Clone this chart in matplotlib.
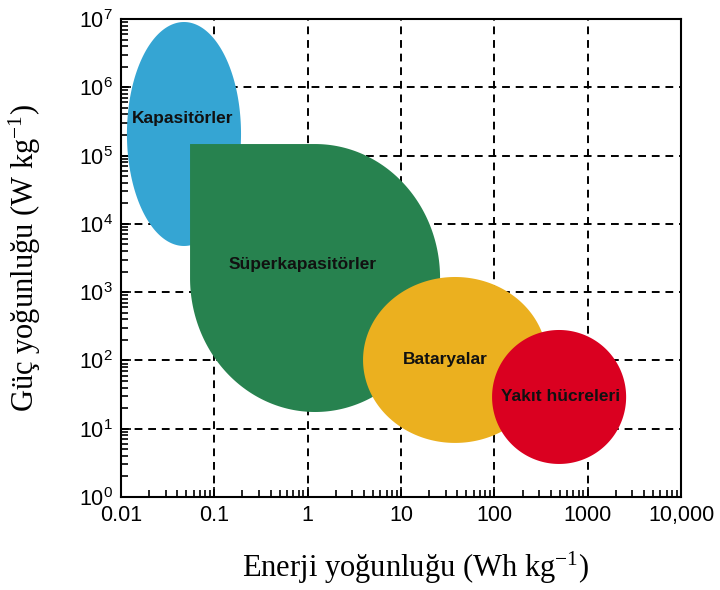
import numpy as np
import matplotlib
matplotlib.use("Agg")
import matplotlib.pyplot as plt
from matplotlib.ticker import LogLocator, FixedFormatter, NullFormatter

plt.rcParams["font.family"] = ["Liberation Sans", "DejaVu Sans"]
plt.rcParams["mathtext.default"] = "regular"

# Bölgeler: merkez ve yarı eksenler log10 uzayında (x: Wh/kg, y: W/kg)
names = ["Kapasitörler", "Süperkapasitörler", "Bataryalar", "Yakıt hücreleri"]
center_logx = [-1.325, 0.079, 1.579, 2.693]
center_logy = [5.316, 3.207, 2.007, 1.465]
semi_logx = [0.611, 1.339, 0.986, 0.718]
semi_logy = [1.640, 1.962, 1.215, 0.981]
colors = ["#35a5d3", "#27824f", "#ebb01f", "#da0020"]

label_logx = [-1.336, -0.05, 1.471, 2.704]
label_logy = [5.55, 3.398, 2.02, 1.465]

xticks = [0.01, 0.1, 1, 10, 100, 1000, 10000]
xticklabels = ["0.01", "0.1", "1", "10", "100", "1000", "10,000"]
yticks = [1e0, 1e1, 1e2, 1e3, 1e4, 1e5, 1e6, 1e7]


def region(i, square_corner=False):
    cx, cy = center_logx[i], center_logy[i]
    a, b = semi_logx[i], semi_logy[i]
    if square_corner:
        # sol üst çeyrek yerine köşe: üst -> sağ -> alt -> sol, sonra köşe
        t = np.linspace(np.pi / 2, -np.pi, 300)
        lx = np.append(cx + a * np.cos(t), cx - a)
        ly = np.append(cy + b * np.sin(t), cy + b)
    else:
        t = np.linspace(0, 2 * np.pi, 300)
        lx = cx + a * np.cos(t)
        ly = cy + b * np.sin(t)
    return 10 ** lx, 10 ** ly


fig = plt.figure(figsize=(7.2, 5.9), dpi=100)
ax = fig.add_axes([0.168, 0.1576, 0.778, 0.8102])
ax.set_xscale("log")
ax.set_yscale("log")
ax.set_xlim(0.01, 10000)
ax.set_ylim(1, 1e7)

for i in range(len(names)):
    xs, ys = region(i, square_corner=(i == 1))
    ax.fill(xs, ys, color=colors[i], lw=0, zorder=2 + i)
    ax.text(10 ** label_logx[i], 10 ** label_logy[i], names[i],
            ha="center", va="center", fontsize=12.5, fontweight="bold",
            color="#111111", zorder=10)

ax.set_axisbelow(True)
ax.grid(True, which="major", color="black", ls=(0, (4, 3)), lw=1.4)

ax.set_xticks(xticks)
ax.xaxis.set_major_formatter(FixedFormatter(xticklabels))
ax.set_yticks(yticks)
ax.xaxis.set_minor_locator(LogLocator(base=10, subs=np.arange(2, 10)))
ax.yaxis.set_minor_locator(LogLocator(base=10, subs=np.arange(2, 10)))
ax.xaxis.set_minor_formatter(NullFormatter())
ax.yaxis.set_minor_formatter(NullFormatter())
ax.tick_params(which="both", direction="in", colors="black",
               labelsize=15.5, width=1.2)
ax.tick_params(which="major", length=7, pad=6)
ax.tick_params(which="minor", length=5)
for s in ax.spines.values():
    s.set_linewidth(1.5)

serif = ["Liberation Serif", "DejaVu Serif"]
ax.set_xlabel("Enerji yoğunluğu (Wh kg$^{\\mathdefault{-1}}$)",
              fontsize=22, family=serif)
ax.set_ylabel("Güç yoğunluğu (W kg$^{\\mathdefault{-1}}$)",
              fontsize=22, family=serif)
ax.xaxis.set_label_coords(0.525, -0.11)
ax.yaxis.set_label_coords(-0.139, 0.5)

fig.savefig("out.png", dpi=100)
